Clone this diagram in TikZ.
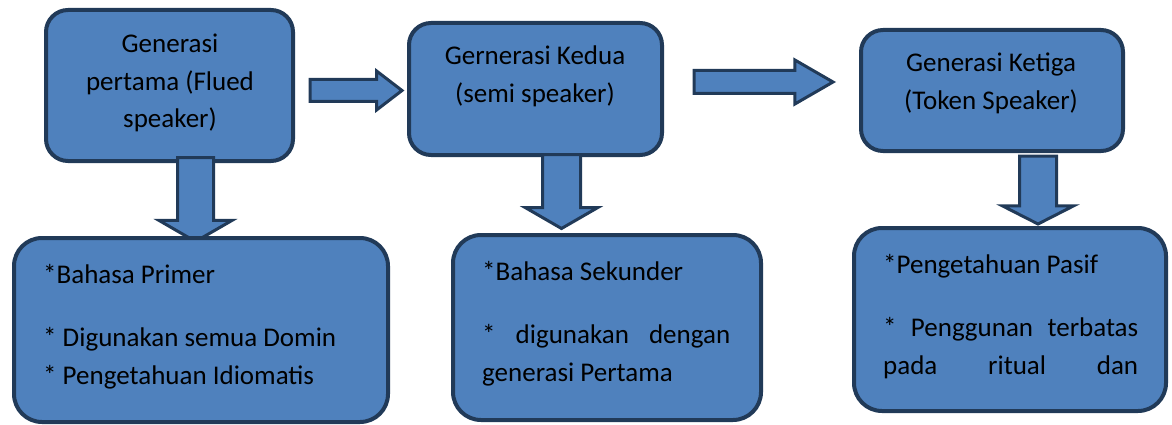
\documentclass[tikz,border=0pt]{standalone}
\usepackage{fontspec}
\setmainfont{Carlito}
\usepackage{xcolor}
\usepackage{tikz}
\usetikzlibrary{positioning,shapes.arrows}

\definecolor{boxfill}{HTML}{4F81BD}
\definecolor{boxline}{HTML}{213A58}

\begin{document}
\begin{tikzpicture}[
        x=1pt, y=-1pt,
        genbox/.style={
            draw=boxline,
            line width=4pt,
            fill=boxfill,
            rounded corners=22pt,
            inner sep=0pt
        },
        blockarrow/.style={
            single arrow,
            draw=boxline,
            line width=3pt,
            fill=boxfill,
            inner xsep=0pt,
            anchor=tail,
            single arrow head indent=0pt
        },
        boxtext/.style={
            inner sep=0pt,
            font=\fontsize{27}{37.5}\selectfont
        }
    ]
        \useasboundingbox (0,0) rectangle (1172,425);

        % generations
        \node[genbox, minimum width=247pt, minimum height=151pt] (gen1) at (169.5,85.5) {};
        \node[genbox, minimum width=253pt, minimum height=132pt] (gen2) at (535.5,89) {};
        \node[genbox, minimum width=262pt, minimum height=121pt] (gen3) at (992,90.5) {};

        % block arrows
        \node[blockarrow, minimum height=92pt, inner ysep=9.5pt,
            single arrow head extend=8.5pt, single arrow tip angle=75] (arr12) at (308.5,90.5) {};
        \node[blockarrow, minimum height=139pt, inner ysep=10pt,
            single arrow head extend=10.5pt, single arrow tip angle=60] (arr23) at (692.5,82) {};
        \node[blockarrow, rotate=-90, minimum height=84pt, inner ysep=16.5pt,
            single arrow head extend=18.5pt, single arrow tip angle=120] (down1) at (195.5,156) {};
        \node[blockarrow, rotate=-90, minimum height=74pt, inner ysep=17.5pt,
            single arrow head extend=17pt, single arrow tip angle=120] (down2) at (561.5,153) {};
        \node[blockarrow, rotate=-90, minimum height=68pt, inner ysep=17pt,
            single arrow head extend=17pt, single arrow tip angle=126] (down3) at (1038,154.5) {};

        % details
        \node[genbox, rounded corners=28pt, minimum width=374pt, minimum height=184pt] (primer) at (201,330) {};
        \node[genbox, rounded corners=28pt, minimum width=308pt, minimum height=185pt] (sekunder) at (607,327.5) {};
        \node[genbox, rounded corners=28pt, minimum width=312pt, minimum height=183pt] (pasif) at (1010,319.5) {};

        % texts
        \node[boxtext, anchor=base] (gen1txt) at (170,53)
            {\parbox[t]{240pt}{\centering Generasi\\pertama (Flued\\speaker)}};
        \node[boxtext, anchor=base] (gen2txt) at (535,65)
            {\parbox[t]{250pt}{\centering Gernerasi Kedua\\(semi speaker)}};
        \node[boxtext, anchor=base] (gen3txt) at (991,72)
            {\parbox[t]{255pt}{\centering Generasi Ketiga\\(Token Speaker)}};
        \node[boxtext, anchor=base west] (primertxt) at (43,283)
            {\parbox[t]{330pt}{\raggedright *Bahasa Primer\\[26pt]* Digunakan semua Domin\\\relax* Pengetahuan Idiomatis}};
        \node[boxtext, anchor=base west] (sekundertxt) at (482,280)
            {\parbox[t]{248pt}{*Bahasa Sekunder\\[26pt]*\hfill digunakan\hfill dengan\\generasi Pertama}};
        \node[boxtext, anchor=base west] (pasiftxt) at (883,273)
            {\parbox[t]{255pt}{*Pengetahuan Pasif\\[26pt]*\hfill Penggunan\hfill terbatas\\pada\hfill ritual\hfill dan}};
    \end{tikzpicture}
\end{document}
